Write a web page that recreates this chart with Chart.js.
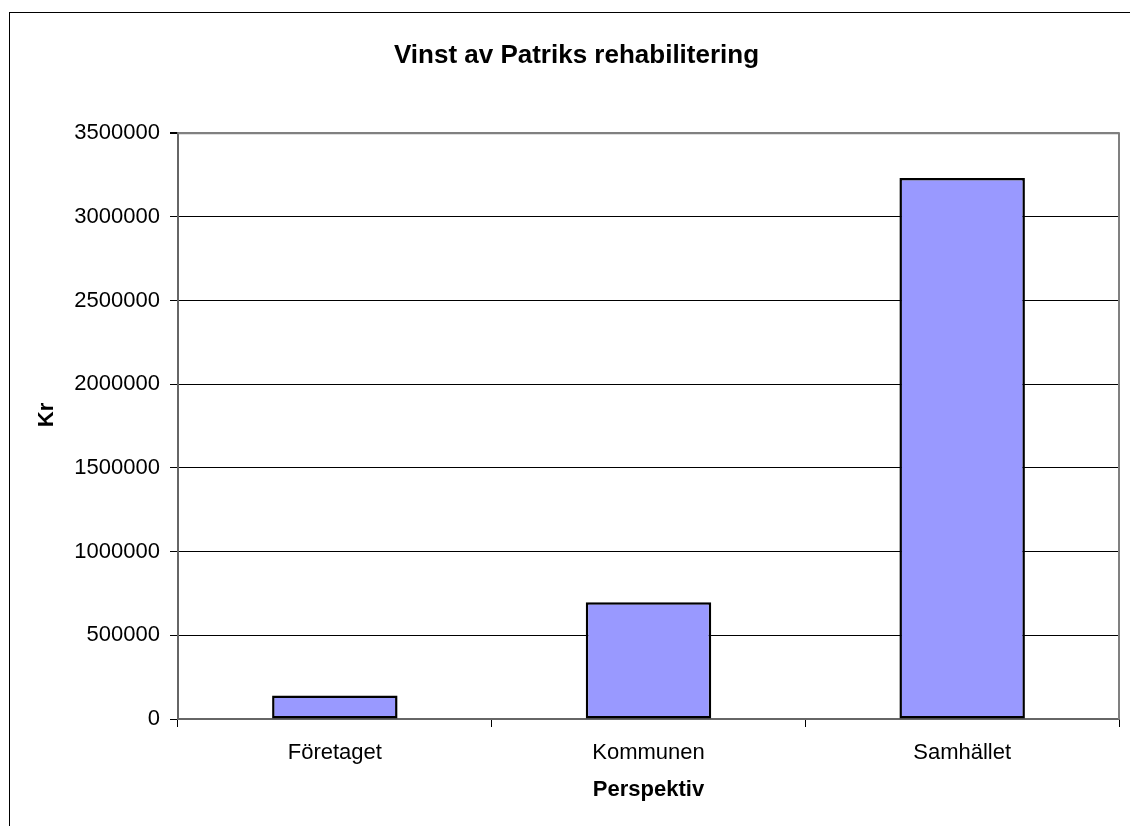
<!DOCTYPE html>
<html>
<head>
<meta charset="utf-8">
<script src="https://cdn.jsdelivr.net/npm/chart.js@4/dist/chart.umd.min.js"></script>
<style>
  html, body { margin: 0; padding: 0; background: #fff; overflow: hidden; }
  #wrap { width: 1130px; height: 826px; position: relative; }
</style>
</head>
<body>
<div id="wrap"><canvas id="c" width="1130" height="826"></canvas></div>
<script>
const categories = ['Företaget', 'Kommunen', 'Samhället'];
const values = [140000, 697000, 3232000];
const yTicks = [0, 500000, 1000000, 1500000, 2000000, 2500000, 3000000, 3500000];
const chartTitle = 'Vinst av Patriks rehabilitering';
const xTitle = 'Perspektiv';
const yTitle = 'Kr';

const FONT = "'Liberation Sans', Arial, Helvetica, sans-serif";
const yMax = yTicks[yTicks.length - 1];

const framePlugin = {
  id: 'frame',
  beforeDraw(chart) {
    const ctx = chart.ctx;
    ctx.save();
    ctx.fillStyle = '#fff';
    ctx.fillRect(0, 0, chart.width, chart.height);
    ctx.strokeStyle = '#000';
    ctx.lineWidth = 1;
    ctx.strokeRect(9.5, 12.5, 1300, 1000);
    ctx.restore();
  },
  beforeDatasetsDraw(chart) {
    const a = chart.chartArea;
    const ctx = chart.ctx;
    ctx.save();
    ctx.strokeStyle = '#808080';
    ctx.lineWidth = 2;
    ctx.beginPath();
    ctx.moveTo(a.left, a.top);
    ctx.lineTo(a.right, a.top);
    ctx.lineTo(a.right, a.bottom);
    ctx.stroke();
    ctx.restore();
  },
  afterDraw(chart) {
    // y-axis title, placed where the reference has it
    const ctx = chart.ctx;
    ctx.save();
    ctx.translate(47, 415);
    ctx.rotate(-Math.PI / 2);
    ctx.fillStyle = '#000';
    ctx.font = 'bold 22px ' + FONT;
    ctx.textAlign = 'center';
    ctx.textBaseline = 'middle';
    ctx.fillText(yTitle, 0, 0);
    ctx.restore();
  }
};

new Chart(document.getElementById('c'), {
  type: 'bar',
  data: {
    labels: categories,
    datasets: [{
      data: values,
      backgroundColor: '#9999FF',
      borderColor: '#000',
      borderWidth: 2.5,
      borderSkipped: false,
      barPercentage: 0.4,
      categoryPercentage: 1.0
    }]
  },
  options: {
    responsive: false,
    animation: false,
    devicePixelRatio: 1,
    layout: { padding: { left: 34, right: 11, top: 0, bottom: 23 } },
    plugins: {
      legend: { display: false },
      tooltip: { enabled: false },
      title: {
        display: true,
        text: chartTitle,
        color: '#000',
        font: { family: FONT, size: 26, weight: 'bold', lineHeight: 1.2 },
        padding: { top: 40, bottom: 62 }
      }
    },
    scales: {
      x: {
        grid: { display: true, drawOnChartArea: false, offset: true, tickLength: 8, color: '#000', lineWidth: 1 },
        border: { display: true, color: '#666', width: 2 },
        ticks: { color: '#000', padding: 13, font: { family: FONT, size: 22 }, maxRotation: 0 },
        title: { display: true, text: xTitle, color: '#000', padding: 0,
                 font: { family: FONT, size: 22, weight: 'bold', lineHeight: 1.2 } },
        afterFit(scale) { scale.height = 84; }
      },
      y: {
        min: 0,
        max: yMax,
        afterBuildTicks(scale) { scale.ticks = yTicks.map(v => ({ value: v })); },
        grid: {
          tickLength: 8,
          color: ctx => (ctx.tick && ctx.tick.value === yMax) ? '#808080' : '#000',
          lineWidth: ctx => (ctx.tick && ctx.tick.value === yMax) ? 2 : 1,
          tickColor: '#000'
        },
        border: { display: true, color: '#666', width: 2 },
        ticks: {
          color: '#000', padding: 10,
          font: { family: FONT, size: 22 },
          callback: v => String(v)
        },
        title: { display: false },
        afterFit(scale) { scale.width = 144; }
      }
    }
  },
  plugins: [framePlugin]
});
</script>
</body>
</html>
